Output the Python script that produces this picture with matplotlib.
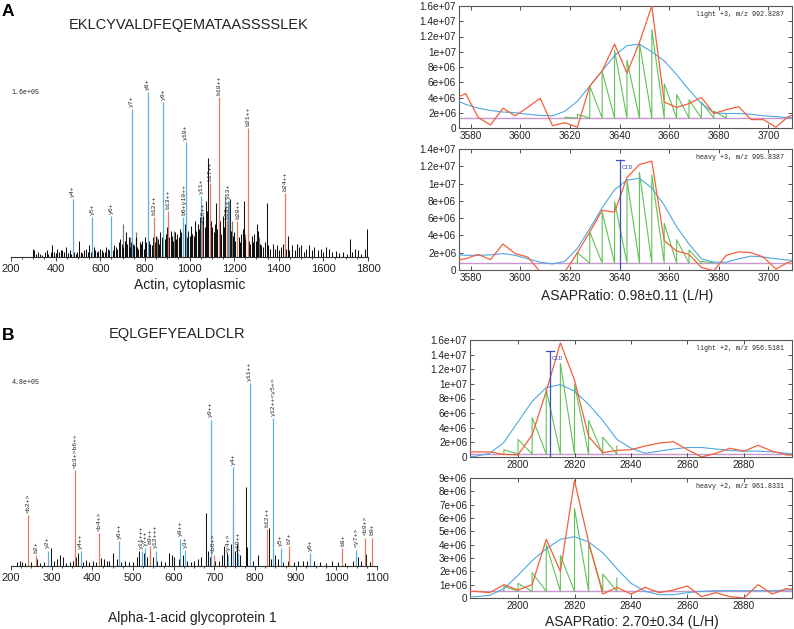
import matplotlib
matplotlib.use('Agg')
import matplotlib.pyplot as plt
from matplotlib.ticker import FixedLocator, FixedFormatter, MultipleLocator

W, H = 794, 629
fig = plt.figure(figsize=(W / 100, H / 100), dpi=100)

SANS = ['Liberation Sans', 'DejaVu Sans']
MONO = ['Liberation Mono', 'DejaVu Sans Mono']

BLUE_ION = '#5fb0de'
RED_ION = '#e27a66'
ORANGE = '#f2603c'
FIT_BLUE = '#4fa8de'
GREEN = '#62c257'
PURPLE = '#c896d0'
CID_BLUE = '#3a50c0'

# ---------------------------------------------------------------- data: panel A spectrum
a_peptide = "EKLCYVALDFEQEMATAASSSSLEK"
a_protein = "Actin, cytoplasmic"
a_max_int = 1.6e5
a_max_label = "1.6e+05"
a_ion_mz = [476, 563, 650, 741, 813, 840, 882, 905, 973, 983, 1052, 1058,
            1092, 1130, 1168, 1175, 1215, 1260, 1426]
a_ion_rel = [0.35, 0.24, 0.25, 0.90, 1.00, 0.24, 0.94, 0.28, 0.24, 0.70, 0.37, 0.20,
             0.45, 0.97, 0.22, 0.34, 0.22, 0.78, 0.385]
a_ion_type = ['y', 'y', 'y', 'y', 'y', 'b', 'y', 'b', 'y', 'y', 'y', 'b',
              'b', 'b', 'b', 'y', 'b', 'b', 'b']
a_ion_label = ['y4+', 'y5+', 'y6+', 'y7+', 'y8+', 'b12++', 'y9+', 'b13++', 'b6+y10++', 'y10+',
               'y11+', 'b16++', 'b17++', 'b18++', 'b19++', 'y13+', 'b20++', 'b21++', 'b24++']

a_noise_mz = [300, 305, 312, 320, 332, 340, 352, 360, 366, 378,
              385, 392, 400, 408, 415, 422, 430, 438, 446, 455,
              463, 470, 482, 490, 497, 505, 513, 520, 528, 536,
              543, 550, 557, 570, 577, 585, 592, 600, 607, 614,
              620, 627, 634, 641, 648, 656, 663, 670, 676, 683,
              690, 697, 704, 710, 716, 722, 728, 734, 740, 746,
              752, 758, 764, 770, 776, 782, 788, 794, 800, 806,
              818, 824, 830, 836, 846, 852, 858, 864, 870, 876,
              888, 894, 899, 910, 916, 922, 928, 934, 940, 946,
              952, 958, 964, 970, 978, 988, 994, 1000, 1006, 1012,
              1018, 1024, 1030, 1036, 1042, 1048, 1062, 1068, 1074, 1080,
              1084, 1096, 1102, 1108, 1114, 1119, 1124, 1136, 1142, 1148,
              1154, 1160, 1166, 1176, 1182, 1188, 1194, 1200, 1206, 1220,
              1226, 1232, 1238, 1244, 1250, 1266, 1272, 1278, 1284, 1290,
              1296, 1302, 1308, 1314, 1322, 1330, 1338, 1346, 1354, 1362,
              1372, 1382, 1392, 1402, 1412, 1420, 1432, 1440, 1448, 1460,
              1472, 1482, 1490, 1500, 1512, 1524, 1536, 1548, 1560, 1575,
              1588, 1600, 1612, 1625, 1640, 1655, 1670, 1690, 1705, 1718,
              1730, 1742, 1755, 1770, 1785, 1796]
a_noise_rel = [0.05, 0.04, 0.02, 0.03, 0.02, 0.015, 0.03, 0.04, 0.02, 0.03,
               0.075, 0.03, 0.025, 0.05, 0.03, 0.04, 0.045, 0.03, 0.06, 0.025,
               0.04, 0.02, 0.03, 0.02, 0.03, 0.10, 0.03, 0.025, 0.04, 0.05,
               0.03, 0.07, 0.03, 0.06, 0.04, 0.03, 0.035, 0.05, 0.04, 0.03,
               0.03, 0.06, 0.05, 0.04, 0.05, 0.04, 0.07, 0.06, 0.05, 0.09,
               0.11, 0.08, 0.06, 0.10, 0.15, 0.08, 0.12, 0.06, 0.09, 0.08,
               0.07, 0.12, 0.06, 0.05, 0.09, 0.08, 0.10, 0.05, 0.12, 0.09,
               0.10, 0.08, 0.07, 0.12, 0.09, 0.13, 0.11, 0.08, 0.15, 0.12,
               0.11, 0.14, 0.18, 0.12, 0.16, 0.13, 0.10, 0.15, 0.11, 0.14,
               0.12, 0.17, 0.15, 0.18, 0.20, 0.12, 0.16, 0.13, 0.19, 0.14,
               0.13, 0.22, 0.16, 0.20, 0.17, 0.24, 0.25, 0.18, 0.34, 0.28,
               0.60, 0.22, 0.18, 0.15, 0.20, 0.33, 0.17, 0.22, 0.14, 0.25,
               0.18, 0.30, 0.22, 0.20, 0.35, 0.16, 0.13, 0.15, 0.10, 0.12,
               0.09, 0.14, 0.17, 0.34, 0.11, 0.10, 0.08, 0.13, 0.09, 0.14,
               0.10, 0.20, 0.16, 0.08, 0.07, 0.06, 0.09, 0.33, 0.07, 0.05,
               0.08, 0.05, 0.07, 0.04, 0.06, 0.08, 0.05, 0.13, 0.04, 0.07,
               0.04, 0.08, 0.06, 0.07, 0.03, 0.05, 0.07, 0.04, 0.06, 0.04,
               0.05, 0.03, 0.06, 0.05, 0.03, 0.035, 0.025, 0.03, 0.02, 0.11,
               0.03, 0.05, 0.04, 0.02, 0.05, 0.17]
a_gray_mz = [700, 735, 760, 855, 930, 1010, 1055, 1160, 1172, 1190, 1250, 1310]
a_gray_rel = [0.20, 0.12, 0.15, 0.12, 0.16, 0.14, 0.22, 0.37, 0.34, 0.22, 0.14, 0.12]

# ---------------------------------------------------------------- data: panel B spectrum
b_peptide = "EQLGEFYEALDCLR"
b_protein = "Alpha-1-acid glycoprotein 1"
b_max_int = 4.8e5
b_max_label = "4.8e+05"
b_ion_mz = [243, 261, 290, 357, 371, 416, 466, 521, 530, 541, 556, 616, 628,
            691, 698, 733, 746, 758, 787, 829, 844, 863, 883, 935, 1015, 1049, 1070, 1088]
b_ion_rel = [0.28, 0.06, 0.084, 0.525, 0.08, 0.18, 0.137, 0.08, 0.10, 0.11, 0.084, 0.15, 0.088,
             0.80, 0.06, 0.06, 0.54, 0.07, 1.00, 0.20, 0.81, 0.10, 0.11, 0.07, 0.10, 0.09, 0.155, 0.155]
b_ion_type = ['b', 'b', 'y', 'b', 'y', 'b', 'y', 'y', 'y', 'b', 'y', 'y', 'y',
              'y', 'b', 'y', 'y', 'y', 'y', 'b', 'y', 'y', 'b', 'y', 'b', 'y', 'b', 'b']
b_ion_label = ['<b2+>', 'b2+', 'y2+', '<b3+>b6++', 'y4++', '<b4+>', 'y6++', 'y11+++', 'y7++', 'b9++',
               'y12+++', 'y8++', 'y3+', 'y9++', '<b6+>', '<y4+>', 'y4+', 'y10++', 'y11++', 'b12++',
               'y12++<y5+>', 'y5+', 'b7+', 'y6+', 'b8+', '<y7+>', '<b9+>', 'b9+']

b_noise_mz = [215, 222, 228, 235, 250, 263, 272, 280, 298, 305,
              312, 320, 327, 335, 345, 352, 360, 365, 378, 385,
              393, 402, 410, 422, 428, 435, 442, 452, 460, 470,
              480, 490, 500, 510, 515, 526, 535, 542, 548, 560,
              570, 578, 588, 595, 602, 612, 622, 632, 642, 650,
              660, 668, 680, 684, 690, 702, 712, 718, 724, 730,
              740, 746, 752, 756, 764, 777, 781, 795, 808, 834,
              840, 850, 857, 870, 880, 895, 905, 918, 928, 945,
              960, 975, 990, 1005, 1022, 1040, 1053, 1060, 1072, 1082]
b_noise_rel = [0.02, 0.025, 0.02, 0.015, 0.02, 0.04, 0.015, 0.02, 0.10, 0.03,
               0.04, 0.06, 0.05, 0.015, 0.02, 0.03, 0.05, 0.07, 0.02, 0.035,
               0.02, 0.03, 0.02, 0.045, 0.04, 0.03, 0.03, 0.07, 0.04, 0.02,
               0.025, 0.02, 0.02, 0.05, 0.08, 0.07, 0.05, 0.09, 0.05, 0.03,
               0.03, 0.02, 0.07, 0.06, 0.05, 0.04, 0.06, 0.03, 0.02, 0.03,
               0.04, 0.05, 0.29, 0.08, 0.05, 0.03, 0.03, 0.06, 0.11, 0.07,
               0.12, 0.33, 0.08, 0.12, 0.06, 0.43, 0.106, 0.03, 0.06, 0.21,
               0.04, 0.06, 0.04, 0.02, 0.03, 0.02, 0.025, 0.03, 0.025, 0.03,
               0.02, 0.015, 0.025, 0.02, 0.015, 0.025, 0.05, 0.03, 0.065, 0.02]

# ---------------------------------------------------------------- data: chromatograms
a_scan = [3573, 3578, 3583, 3588, 3593, 3598, 3603, 3608, 3613, 3618, 3623, 3628, 3633, 3638,
          3643, 3648, 3653, 3658, 3663, 3668, 3673, 3678, 3683, 3688, 3693, 3698, 3703, 3708, 3713]
a_light_raw = [3.8e6, 4.5e6, 1.4e6, 0.4e6, 2.6e6, 1.6e6, 2.7e6, 3.9e6, 0.3e6, 0.7e6, 0.1e6, 5.5e6, 7.5e6, 11.0e6,
               7.2e6, 11.2e6, 16.0e6, 3.4e6, 2.7e6, 3.2e6, 4.0e6, 1.9e6, 2.4e6, 2.8e6, 1.1e6, 1.1e6, 0.1e6, 1.5e6, 2.0e6]
a_light_fit = [3.8e6, 3.1e6, 2.6e6, 2.3e6, 2.1e6, 2.0e6, 1.8e6, 1.65e6, 1.6e6, 2.2e6, 3.5e6, 5.5e6, 7.5e6, 9.5e6,
               10.8e6, 11.0e6, 10.0e6, 8.8e6, 7.0e6, 5.0e6, 3.2e6, 2.0e6, 1.9e6, 1.9e6, 1.8e6, 1.6e6, 1.5e6, 1.35e6, 1.3e6]
a_light_scan = [3618, 3623, 3628, 3633, 3638, 3643, 3648, 3653, 3658, 3663, 3668, 3673, 3678, 3683]
a_light_area = [1.4e6, 1.8e6, 5.5e6, 7.4e6, 10.2e6, 8.9e6, 11.2e6, 12.9e6, 5.8e6, 4.4e6, 3.7e6, 3.4e6, 2.2e6, 1.8e6]
a_light_base = 1.3e6
a_light_title = "light +3, m/z 992.8287"

a_heavy_raw = [1.1e6, 1.3e6, 1.8e6, 1.2e6, 3.0e6, 1.9e6, 1.5e6, -0.2e6, -1.5e6, -0.2e6, 2.0e6, 4.4e6, 6.9e6, 6.7e6,
               10.7e6, 12.2e6, 12.6e6, 3.4e6, 2.2e6, 1.8e6, 0.3e6, -0.1e6, 1.7e6, 2.1e6, 2.0e6, 1.5e6, 0.1e6, 0.9e6, 1.2e6]
a_heavy_fit = [1.8e6, 1.7e6, 1.7e6, 1.75e6, 1.9e6, 1.7e6, 1.3e6, 0.9e6, 0.7e6, 1.0e6, 2.5e6, 4.8e6, 7.2e6, 9.3e6,
               10.4e6, 10.6e6, 9.5e6, 7.5e6, 5.0e6, 3.0e6, 1.3e6, 0.9e6, 0.9e6, 1.3e6, 1.6e6, 1.5e6, 1.3e6, 1.15e6, 1.1e6]
a_heavy_scan = [3623, 3628, 3633, 3638, 3643, 3648, 3653, 3658, 3663, 3668, 3673, 3678]
a_heavy_area = [2.0e6, 4.4e6, 6.7e6, 7.9e6, 10.4e6, 11.3e6, 11.0e6, 5.4e6, 3.5e6, 2.3e6, 1.0e6, 0.9e6]
a_heavy_base = 0.8e6
a_heavy_title = "heavy +3, m/z 995.8387"
a_cid_time = 3640
a_cid_top = 12.7e6
a_ratio = "ASAPRatio: 0.98±0.11 (L/H)"

b_scan = [2780, 2785, 2790, 2795, 2800, 2805, 2810, 2815, 2820, 2825, 2830, 2835, 2840, 2845,
          2850, 2855, 2860, 2865, 2870, 2875, 2880, 2885, 2890, 2895, 2900]
b_light_raw = [0.7e6, 0.7e6, 0.7e6, 0.35e6, 0.3e6, 3.0e6, 9.0e6, 15.6e6, 10.5e6, 2.8e6, 0.6e6, 0.9e6, 1.0e6, 1.5e6,
               1.9e6, 2.1e6, 1.0e6, 0.0, 0.5e6, 1.2e6, 0.8e6, 1.6e6, 0.8e6, 0.3e6, 0.2e6]
b_light_fit = [0.0, 0.1e6, 0.5e6, 2.0e6, 4.8e6, 7.6e6, 9.5e6, 9.9e6, 9.0e6, 7.2e6, 5.0e6, 2.4e6, 1.2e6, 0.5e6,
               0.8e6, 1.1e6, 1.3e6, 1.3e6, 1.1e6, 0.9e6, 0.8e6, 0.8e6, 0.7e6, 0.5e6, 0.4e6]
b_light_scan = [2795, 2800, 2805, 2810, 2815, 2820, 2825, 2830, 2835]
b_light_area = [1.0e6, 2.4e6, 5.4e6, 9.2e6, 12.8e6, 9.9e6, 5.0e6, 2.7e6, 1.5e6]
b_light_base = 0.4e6
b_light_title = "light +2, m/z 956.5181"
b_cid_time = 2811.4
b_cid_top = 14.5e6

b_heavy_raw = [0.5e6, 0.5e6, 0.4e6, 1.0e6, 0.6e6, 1.0e6, 4.4e6, 2.0e6, 8.8e6, 4.2e6, 0.3e6, 0.8e6, 0.3e6, 0.8e6,
               0.4e6, 0.6e6, 0.9e6, 0.1e6, 0.4e6, 0.1e6, 0.0, 1.0e6, 0.3e6, 0.7e6, 0.6e6]
b_heavy_fit = [0.05e6, 0.1e6, 0.2e6, 0.7e6, 1.7e6, 2.8e6, 3.7e6, 4.4e6, 4.6e6, 4.2e6, 3.4e6, 2.2e6, 1.1e6, 0.5e6,
               0.25e6, 0.25e6, 0.4e6, 0.5e6, 0.55e6, 0.55e6, 0.55e6, 0.55e6, 0.55e6, 0.6e6, 0.6e6]
b_heavy_scan = [2795, 2800, 2805, 2810, 2815, 2820, 2825, 2830, 2835]
b_heavy_area = [0.9e6, 1.1e6, 1.9e6, 4.0e6, 3.2e6, 6.7e6, 4.1e6, 1.8e6, 1.5e6]
b_heavy_base = 0.5e6
b_heavy_title = "heavy +2, m/z 961.8331"
b_ratio = "ASAPRatio: 2.70±0.34 (L/H)"

a_xticks = [3580, 3600, 3620, 3640, 3660, 3680, 3700]
b_xticks = [2800, 2820, 2840, 2860, 2880]
yt_16 = [0, 2e6, 4e6, 6e6, 8e6, 10e6, 12e6, 14e6, 16e6]
yl_16 = ['0', '2e+06', '4e+06', '6e+06', '8e+06', '1e+07', '1.2e+07', '1.4e+07', '1.6e+07']
yt_14 = [0, 2e6, 4e6, 6e6, 8e6, 10e6, 12e6, 14e6]
yl_14 = ['0', '2e+06', '4e+06', '6e+06', '8e+06', '1e+07', '1.2e+07', '1.4e+07']
yt_9 = [0, 1e6, 2e6, 3e6, 4e6, 5e6, 6e6, 7e6, 8e6, 9e6]
yl_9 = ['0', '1e+06', '2e+06', '3e+06', '4e+06', '5e+06', '6e+06', '7e+06', '8e+06', '9e+06']


# ---------------------------------------------------------------- helpers
def ax_px(l, t, r, b):
    return fig.add_axes([l / W, 1 - b / H, (r - l) / W, (b - t) / H])


def ftext(x, y, s, **kw):
    fig.text(x / W, 1 - y / H, s, **kw)


def spectrum(ax, xlim, xstep, max_int, noise_mz, noise_rel, ion_mz, ion_rel, ion_type, ion_label,
             gray_mz=None, gray_rel=None):
    ax.set_xlim(*xlim)
    ax.set_ylim(0, max_int)
    ax.vlines(noise_mz, 0, [r * max_int for r in noise_rel], colors='#111111', lw=0.75, zorder=2)
    if gray_mz:
        ax.vlines(gray_mz, 0, [r * max_int for r in gray_rel], colors='#7a7a7a', lw=0.9, zorder=1)
    for mz, r, t, lab in zip(ion_mz, ion_rel, ion_type, ion_label):
        c = BLUE_ION if t == 'y' else RED_ION
        ax.vlines(mz, 0, r * max_int, colors=c, lw=0.9, zorder=3)
        ax.text(mz, r * max_int + 0.012 * max_int, lab, rotation=90, ha='center', va='bottom',
                fontsize=4.6, family=MONO, color='#222222', clip_on=False, zorder=4)
    for s in ['top', 'right', 'left']:
        ax.spines[s].set_visible(False)
    ax.spines['bottom'].set_linewidth(0.8)
    ax.spines['bottom'].set_color('#333333')
    ax.set_yticks([])
    ax.xaxis.set_major_locator(MultipleLocator(xstep))
    ax.xaxis.set_minor_locator(MultipleLocator(xstep / 4))
    ax.tick_params(axis='x', which='major', length=3, width=0.6, pad=2, labelsize=8, colors='#222222')
    ax.tick_params(axis='x', which='minor', length=1.5, width=0.5)
    for lb in ax.get_xticklabels():
        lb.set_family(SANS)
    ax.patch.set_alpha(0)


def chrom(ax, xlim, xticks, yticks, ylabels, scan, raw, fit, ascan, area, base, title,
          cid=None):
    ax.set_xlim(*xlim)
    ax.set_ylim(0, yticks[-1])
    ax.axhline(base, color=PURPLE, lw=1.0, zorder=1)
    xs2, ys2 = [ascan[0]], [base]
    for i in range(len(ascan)):
        xs2 += [ascan[i]]
        ys2 += [area[i]]
        if i + 1 < len(ascan):
            xs2 += [ascan[i + 1]]
            ys2 += [base]
    ax.plot(xs2, ys2, color=GREEN, lw=0.8, zorder=2)
    ax.plot(scan, fit, color=FIT_BLUE, lw=0.8, zorder=3)
    ax.plot(scan, raw, color=ORANGE, lw=0.9, zorder=4)
    if cid is not None:
        ct, ctop = cid
        ax.plot([ct, ct], [0, ctop], color=CID_BLUE, lw=0.9, zorder=5)
        dx = (xlim[1] - xlim[0]) * 0.012
        ax.plot([ct - dx, ct + dx], [ctop, ctop], color=CID_BLUE, lw=0.9, zorder=5)
        ax.text(ct + dx * 0.4, ctop * 0.93, 'CID', fontsize=4.5, family=MONO, color=CID_BLUE,
                va='center', ha='left', zorder=6)
    ax.text(0.975, 0.955, title, transform=ax.transAxes, ha='right', va='top',
            fontsize=4.8, family=MONO, color='#222222')
    ax.xaxis.set_major_locator(FixedLocator(xticks))
    ax.yaxis.set_major_locator(FixedLocator(yticks))
    ax.yaxis.set_major_formatter(FixedFormatter(ylabels))
    ax.tick_params(direction='in', top=True, right=True, length=3, width=0.6,
                   labelsize=7.2, pad=2, colors='#333333', labelcolor='#222222')
    for lb in ax.get_xticklabels() + ax.get_yticklabels():
        lb.set_family(SANS)
    for s in ax.spines.values():
        s.set_linewidth(0.8)
        s.set_color('#555555')


# ---------------------------------------------------------------- panel A
ftext(2, 11, 'A', fontsize=12.5, fontweight='bold', family=SANS, va='center', ha='left')
ftext(189, 25, a_peptide, fontsize=10.5, family=SANS, ha='center', va='center', color='#222222')
axA = ax_px(11, 92, 368, 257)
spectrum(axA, (200, 1800), 200, a_max_int, a_noise_mz, a_noise_rel, a_ion_mz, a_ion_rel,
         a_ion_type, a_ion_label, a_gray_mz, a_gray_rel)
ftext(12, 93, a_max_label, fontsize=4.8, family=MONO, ha='left', va='center', color='#222222')
ftext(190, 285, a_protein, fontsize=10, family=SANS, ha='center', va='center', color='#222222')

axA1 = ax_px(459, 6, 792, 128)
chrom(axA1, (3575.3, 3709.5), a_xticks, yt_16, yl_16, a_scan, a_light_raw, a_light_fit,
      a_light_scan, a_light_area, a_light_base, a_light_title)
axA2 = ax_px(459, 149, 792, 270)
chrom(axA2, (3575.3, 3709.5), a_xticks, yt_14, yl_14, a_scan, a_heavy_raw, a_heavy_fit,
      a_heavy_scan, a_heavy_area, a_heavy_base, a_heavy_title, cid=(a_cid_time, a_cid_top))
ftext(627, 296, a_ratio, fontsize=10, family=SANS, ha='center', va='center', color='#222222')

# ---------------------------------------------------------------- panel B
ftext(2, 335, 'B', fontsize=12.5, fontweight='bold', family=SANS, va='center', ha='left')
ftext(177, 334, b_peptide, fontsize=10.5, family=SANS, ha='center', va='center', color='#222222')
axB = ax_px(11, 383, 377, 566)
spectrum(axB, (200, 1100), 100, b_max_int, b_noise_mz, b_noise_rel, b_ion_mz, b_ion_rel,
         b_ion_type, b_ion_label)
ftext(12, 383, b_max_label, fontsize=4.8, family=MONO, ha='left', va='center', color='#222222')
ftext(192, 618, b_protein, fontsize=10, family=SANS, ha='center', va='center', color='#222222')

axB1 = ax_px(470, 340, 792, 457)
chrom(axB1, (2783, 2897), b_xticks, yt_16, yl_16, b_scan, b_light_raw, b_light_fit,
      b_light_scan, b_light_area, b_light_base, b_light_title, cid=(b_cid_time, b_cid_top))
axB2 = ax_px(470, 478, 792, 598)
chrom(axB2, (2783, 2897), b_xticks, yt_9, yl_9, b_scan, b_heavy_raw, b_heavy_fit,
      b_heavy_scan, b_heavy_area, b_heavy_base, b_heavy_title)
ftext(632, 622, b_ratio, fontsize=10, family=SANS, ha='center', va='center', color='#222222')

fig.savefig('out.png', dpi=100)
